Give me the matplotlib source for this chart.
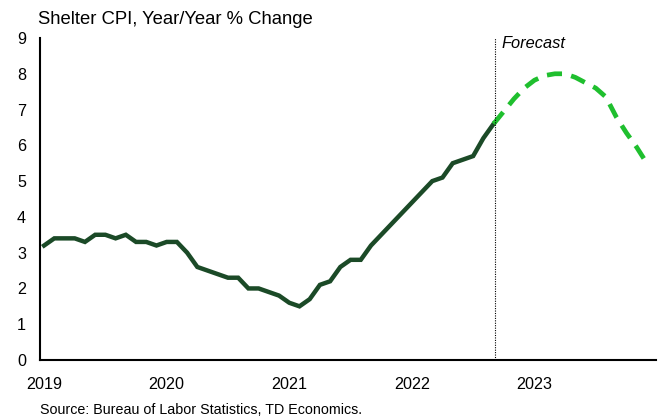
import numpy as np
import matplotlib
matplotlib.use("Agg")
import matplotlib.pyplot as plt

plt.rcParams['font.family'] = ['Liberation Sans', 'DejaVu Sans']

## actual shelter CPI y/y, monthly Jan 2019 - Sep 2022
actual = [3.2, 3.4, 3.4, 3.4, 3.3, 3.5, 3.5, 3.4, 3.5, 3.3, 3.3, 3.2,
          3.3, 3.3, 3.0, 2.6, 2.5, 2.4, 2.3, 2.3, 2.0, 2.0, 1.9, 1.8,
          1.6, 1.5, 1.7, 2.1, 2.2, 2.6, 2.8, 2.8, 3.2, 3.5, 3.8, 4.1,
          4.4, 4.7, 5.0, 5.1, 5.5, 5.6, 5.7, 6.2, 6.6]
## forecast, monthly Sep 2022 - Dec 2023
forecast = [6.6, 6.95, 7.3, 7.6, 7.82, 7.95, 8.0, 8.0,
            7.9, 7.75, 7.6, 7.35, 6.8, 6.35, 5.95, 5.5]

years = ["2019", "2020", "2021", "2022", "2023"]
year_ticks = [0, 12, 24, 36, 48]
forecast_start = len(actual) - 1

x_act = np.arange(len(actual))
x_fc = np.arange(forecast_start, forecast_start + len(forecast))

fig = plt.figure(figsize=(6.65, 4.2), dpi=100)
ax = fig.add_axes([40/665, 60/420, 616/665, 322/420])

ax.plot(x_act, actual, color="#1b4a27", lw=3.2, solid_joinstyle="miter")
ax.plot(x_fc, forecast, color="#1fbf2e", lw=3.4, dashes=(3.2, 2.0))
ax.axvline(forecast_start + 0.15, color="black", lw=0.8, ls=(0, (1, 1.2)))
ax.text(forecast_start + 0.75, 8.85, "Forecast", fontsize=11.8, style="italic",
        ha="left", va="center")

ax.set_xlim(-0.4, 59.9)
ax.set_ylim(0, 9)
ax.set_yticks(range(0, 10))
ax.set_xticks(year_ticks)
ax.set_xticklabels(years)
ax.tick_params(axis="both", length=0, labelsize=11.6)
ax.tick_params(axis="y", pad=10)
ax.tick_params(axis="x", pad=12)

for s in ["top", "right"]:
    ax.spines[s].set_visible(False)
for s in ["left", "bottom"]:
    ax.spines[s].set_linewidth(1.5)

fig.text(38/665, 1 - 19/420, "Shelter CPI, Year/Year % Change", fontsize=13.3,
         ha="left", va="center")
fig.text(40/665, 1 - 410/420, "Source: Bureau of Labor Statistics, TD Economics.",
         fontsize=10.3, ha="left", va="center")

fig.savefig("out.png", dpi=100)
